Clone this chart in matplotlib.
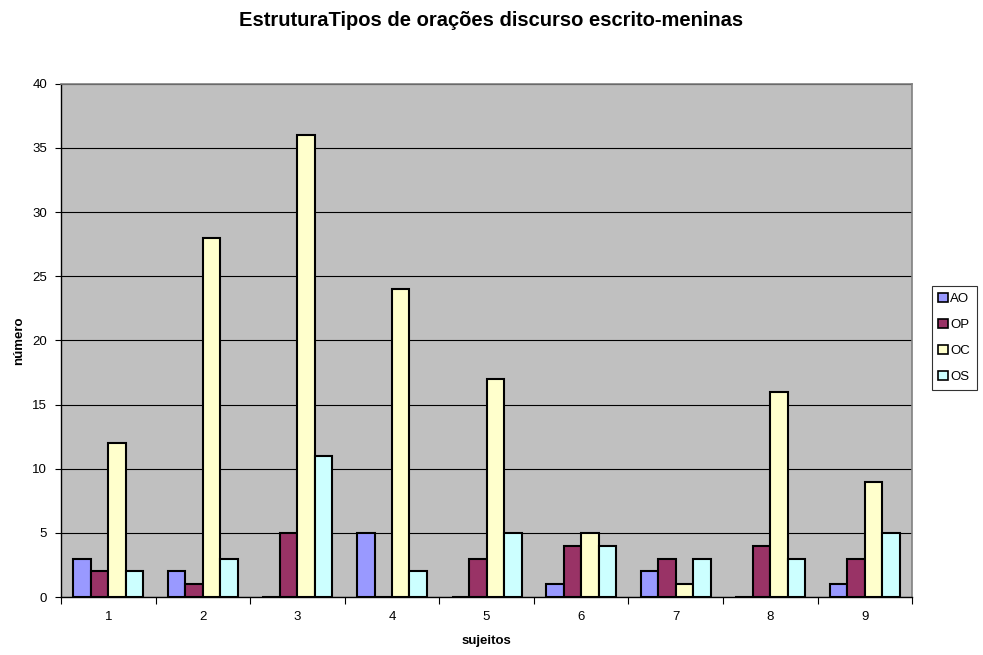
import numpy as np
import matplotlib
matplotlib.use("Agg")
import matplotlib.pyplot as plt
from matplotlib.patches import Patch

plt.rcParams['font.family'] = ['Liberation Sans', 'DejaVu Sans']

sujeitos = ['1', '2', '3', '4', '5', '6', '7', '8', '9']
series = ['AO', 'OP', 'OC', 'OS']
AO = [3, 2, 0, 5, 0, 1, 2, 0, 1]
OP = [2, 1, 5, 0, 3, 4, 3, 4, 3]
OC = [12, 28, 36, 24, 17, 5, 1, 16, 9]
OS = [2, 3, 11, 2, 5, 4, 3, 3, 5]
cores = ['#9999FF', '#993366', '#FFFFCC', '#CCFFFF']

fig = plt.figure(figsize=(9.83, 6.55), dpi=100)
ax = fig.add_axes([0.062, 0.0885, 0.866, 0.7835])
ax.set_facecolor('#C0C0C0')

x = np.arange(len(sujeitos))
w = 0.185
for i, (vals, c) in enumerate(zip([AO, OP, OC, OS], cores)):
    ax.bar(x + (i - 1.5) * w, vals, w, color=c, edgecolor='black', linewidth=1.5, zorder=3)

ax.set_xlim(-0.5, len(sujeitos) - 0.5)
ax.set_ylim(0, 40)
ax.set_yticks(range(0, 41, 5))
ax.yaxis.grid(True, color='black', linewidth=0.8, zorder=1)
ax.set_xticks(x)
ax.set_xticklabels(sujeitos)
ax.set_xticks(np.arange(-0.5, len(sujeitos)), minor=True)
ax.tick_params(axis='x', which='major', length=0, pad=10, labelsize=9.5)
ax.tick_params(axis='x', which='minor', length=5, width=0.8, direction='out')
ax.tick_params(axis='y', length=4, width=0.8, direction='out', labelsize=9.5, pad=6)

for s in ['top', 'right']:
    ax.spines[s].set_color('#808080')
    ax.spines[s].set_linewidth(1.2)
for s in ['left', 'bottom']:
    ax.spines[s].set_color('black')
    ax.spines[s].set_linewidth(1.0)

ax.set_xlabel('sujeitos', fontsize=9.5, fontweight='bold', labelpad=9)
ax.set_ylabel('número', fontsize=9.5, fontweight='bold', labelpad=5)
fig.suptitle('EstruturaTipos de orações discurso escrito-meninas', fontsize=14.5,
             fontweight='bold', y=0.983)

handles = [Patch(facecolor=c, edgecolor='black', linewidth=1.2) for c in cores]
leg = fig.legend(handles, series, loc='center left', bbox_to_anchor=(0.948, 0.484),
                 fontsize=9.5, frameon=True, fancybox=False, handlelength=0.7,
                 handleheight=0.7, handletextpad=0.2, labelspacing=1.05,
                 borderpad=0.5, borderaxespad=0)
leg.get_frame().set_edgecolor('black')
leg.get_frame().set_linewidth(0.8)

fig.savefig('out.png', dpi=100)
